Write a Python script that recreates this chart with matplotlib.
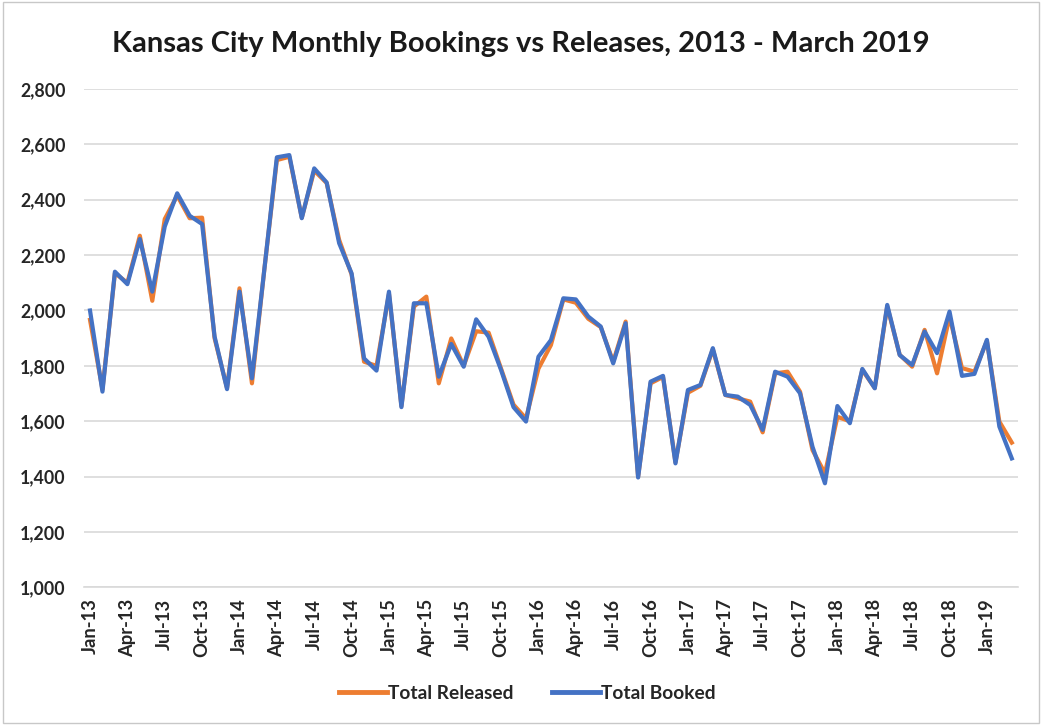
import matplotlib
matplotlib.use("Agg")
import matplotlib.pyplot as plt
from matplotlib.patches import Rectangle
from matplotlib.ticker import FuncFormatter
import pandas as pd

plt.rcParams['font.family'] = ['Lato', 'DejaVu Sans']

# monthly values, Jan-13 .. Mar-19
months = pd.date_range('2013-01-01', '2019-03-01', freq='MS')
month_labels = [d.strftime('%b-%y') for d in months]

total_booked = [
    2000, 1707, 2140, 2095, 2258, 2068, 2303, 2423, 2342, 2312, 1906, 1716,
    2068, 1755, 2150, 2553, 2561, 2333, 2513, 2462, 2243, 2134, 1827, 1783,
    2068, 1651, 2026, 2026, 1761, 1879, 1797, 1968, 1905, 1785, 1651, 1599,
    1833, 1893, 2044, 2040, 1978, 1942, 1809, 1954, 1397, 1743, 1764, 1448,
    1713, 1731, 1864, 1695, 1689, 1659, 1569, 1779, 1761, 1701, 1508, 1376,
    1655, 1593, 1789, 1719, 2020, 1839, 1803, 1924, 1846, 1996, 1764, 1771,
    1894, 1581, 1466,
]
total_released = [
    1966, 1715, 2135, 2100, 2270, 2035, 2330, 2415, 2333, 2335, 1900, 1720,
    2080, 1737, 2150, 2543, 2555, 2335, 2505, 2460, 2255, 2130, 1815, 1800,
    2060, 1655, 2014, 2050, 1737, 1899, 1800, 1925, 1920, 1790, 1660, 1610,
    1790, 1875, 2040, 2028, 1970, 1940, 1815, 1960, 1400, 1737, 1760, 1452,
    1703, 1728, 1860, 1695, 1683, 1671, 1560, 1773, 1779, 1707, 1496, 1412,
    1616, 1600, 1785, 1720, 2015, 1840, 1797, 1930, 1773, 1978, 1792, 1779,
    1890, 1599, 1523,
]

x = list(range(len(months)))

fig = plt.figure(figsize=(10.42, 7.25), dpi=100)
ax = fig.add_axes([0.0804, 0.1897, 0.8966, 0.6877])

ax.plot(x, total_released, color='#ED7D31', lw=3, label='Total Released', solid_joinstyle='round')
ax.plot(x, total_booked, color='#4472C4', lw=3, label='Total Booked', solid_joinstyle='round')

ax.set_xlim(-0.5, len(x) - 0.5)
ax.set_ylim(1000, 2800)
ax.set_yticks(range(1000, 2801, 200))
ax.yaxis.set_major_formatter(FuncFormatter(lambda v, p: f'{int(v):,}'))
ax.set_xticks(x[::3])
ax.set_xticklabels(month_labels[::3], rotation=90)

ax.grid(axis='y', color='#d9d9d9', lw=1.2)
ax.set_axisbelow(True)
for s in ['top', 'right', 'left']:
    ax.spines[s].set_visible(False)
ax.spines['bottom'].set_color('#d9d9d9')
ax.spines['bottom'].set_linewidth(1.2)
ax.tick_params(axis='both', length=0, colors='#262626')
ax.tick_params(axis='y', pad=13, labelsize=12.8)
ax.tick_params(axis='x', pad=8, labelsize=13.2)
for lbl in ax.get_xticklabels() + ax.get_yticklabels():
    lbl.set_fontweight('bold')

fig.suptitle('Kansas City Monthly Bookings vs Releases, 2013 - March 2019',
             x=0.5, y=0.957, fontsize=21, fontweight='bold', color='#1a1a1a')

leg = fig.legend(loc='center', bbox_to_anchor=(0.506, 0.044), ncol=2, frameon=False,
                 prop={'weight': 'bold', 'size': 13.8}, handlelength=2.5,
                 handletextpad=0.05, columnspacing=2.0)
for line in leg.get_lines():
    line.set_linewidth(3.5)
for t in leg.get_texts():
    t.set_color('#262626')

# chart area border
fig.patches.append(Rectangle((0.003, 0.003), 0.994, 0.994, transform=fig.transFigure,
                             fill=False, edgecolor='#c8c8c8', lw=1))

fig.savefig('out.png', dpi=100)
